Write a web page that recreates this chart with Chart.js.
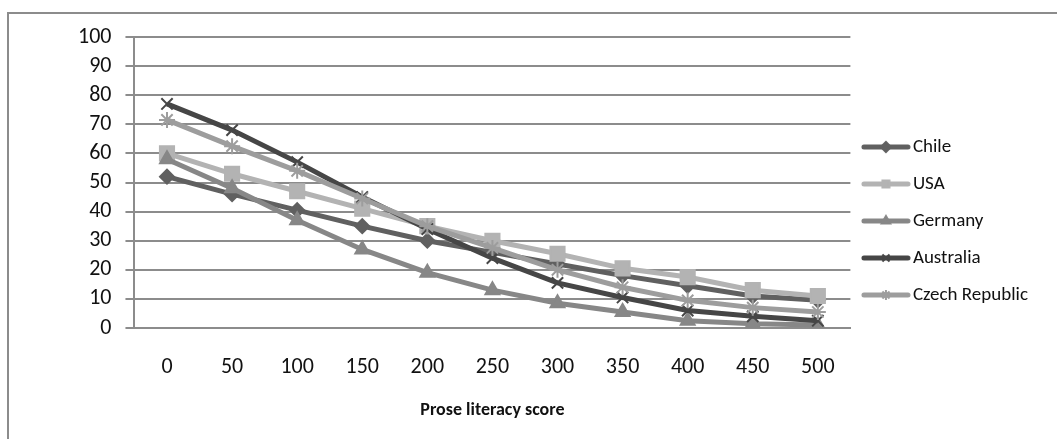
<!DOCTYPE html>
<html>
<head>
<meta charset="utf-8">
<script src="https://cdn.jsdelivr.net/npm/chart.js@4.4.1/dist/chart.umd.min.js"></script>
<style>
  html, body { margin: 0; padding: 0; background: #fff; }
  #frame { position: absolute; left: 7px; top: 12px; width: 1100px; height: 500px; border: 2px solid #8c8c8c; box-sizing: border-box; }
  #wrap { position: absolute; left: 0; top: 0; width: 1057px; height: 439px; }
</style>
</head>
<body>
<div id="frame"></div>
<div id="wrap"><canvas id="chart"></canvas></div>
<script>
// ---- data ----
const SCORES = ["0", "50", "100", "150", "200", "250", "300", "350", "400", "450", "500"];
const Y_TICKS = [0, 10, 20, 30, 40, 50, 60, 70, 80, 90, 100];

const CHILE     = [52, 46, 40.5, 35, 30, 26, 22, 18, 14.5, 11, 9.5];
const USA       = [60, 53, 47, 41, 35, 30, 25.5, 20.5, 17.5, 13, 11];
const GERMANY   = [58, 48, 37, 27, 19, 13, 8.5, 5.5, 2.5, 1.5, 1];
const AUSTRALIA = [77, 68, 57, 45, 34, 24, 15.5, 10.5, 6, 4, 2.5];
const CZECH     = [71.5, 62.5, 54, 44.5, 35, 27.5, 20, 14, 9.5, 7, 5.5];

const FONT = "Carlito, Lato, sans-serif";
const GRID = "#8c8c8c";

// legend swatch: short thick line with a small marker in the middle
function legendIcon(color, style, radius) {
  const c = document.createElement("canvas");
  c.width = 50;
  c.height = 16;
  const ctx = c.getContext("2d");
  ctx.strokeStyle = color;
  ctx.fillStyle = color;
  ctx.lineWidth = 5;
  ctx.lineCap = "round";
  ctx.beginPath();
  ctx.moveTo(3, 8);
  ctx.lineTo(47, 8);
  ctx.stroke();
  ctx.lineWidth = 2;
  ctx.lineCap = "butt";
  Chart.helpers.drawPoint(ctx, { pointStyle: style, radius: radius, borderWidth: 2, rotation: 0 }, 25, 8);
  return c;
}

function series(label, data, color, style, radius, order) {
  return {
    label,
    data,
    borderColor: color,
    backgroundColor: color,
    borderWidth: 5,
    pointStyle: style,
    pointRadius: radius,
    pointHoverRadius: radius,
    pointBorderWidth: 2,
    pointBackgroundColor: color,
    pointBorderColor: color,
    tension: 0,
    order
  };
}

const datasets = [
  series("Chile", CHILE, "#606060", "rectRot", 7, 4),
  series("USA", USA, "#b3b3b3", "rect", 10, 3),
  series("Germany", GERMANY, "#878787", "triangle", 8, 2),
  series("Australia", AUSTRALIA, "#464646", "crossRot", 8, 1),
  series("Czech Republic", CZECH, "#9d9d9d", "star", 8, 0)
];

const ICONS = datasets.map(d => legendIcon(d.borderColor, d.pointStyle, 5));

new Chart(document.getElementById("chart"), {
  type: "line",
  data: { labels: SCORES, datasets },
  options: {
    responsive: true,
    maintainAspectRatio: false,
    animation: false,
    // bottom padding is larger so the right legend centres a bit higher;
    // the x title's negative bottom padding puts it back in place
    layout: { padding: { left: 64, top: 37, right: 19, bottom: 34 } },
    plugins: {
      tooltip: { enabled: false },
      legend: {
        position: "right",
        align: "center",
        labels: {
          usePointStyle: true,
          pointStyleWidth: 35,
          padding: 18,
          color: "#111",
          font: { family: FONT, size: 19 },
          sort: (a, b) => a.datasetIndex - b.datasetIndex,
          generateLabels: (chart) => {
            const items = Chart.defaults.plugins.legend.labels.generateLabels(chart);
            items.forEach(it => { it.pointStyle = ICONS[it.datasetIndex]; });
            return items;
          }
        }
      }
    },
    scales: {
      x: {
        type: "category",
        offset: true,
        grid: { display: false, drawTicks: false },
        border: { display: true, color: GRID, width: 2 },
        ticks: { padding: 26, color: "#111", font: { family: FONT, size: 22 }, maxRotation: 0 },
        title: {
          display: true,
          text: "Prose literacy score",
          color: "#111",
          font: { family: FONT, size: 18, weight: "bold" },
          padding: { top: -7, bottom: -16 }
        }
      },
      y: {
        min: 0,
        max: 100,
        afterBuildTicks: (axis) => { axis.ticks = Y_TICKS.map(v => ({ value: v })); },
        grid: { color: GRID, lineWidth: 2, tickLength: 9, drawTicks: true },
        border: { display: true, color: GRID, width: 2 },
        ticks: { autoSkip: false, padding: 14, color: "#111", font: { family: FONT, size: 22 } }
      }
    }
  }
});
</script>
</body>
</html>
